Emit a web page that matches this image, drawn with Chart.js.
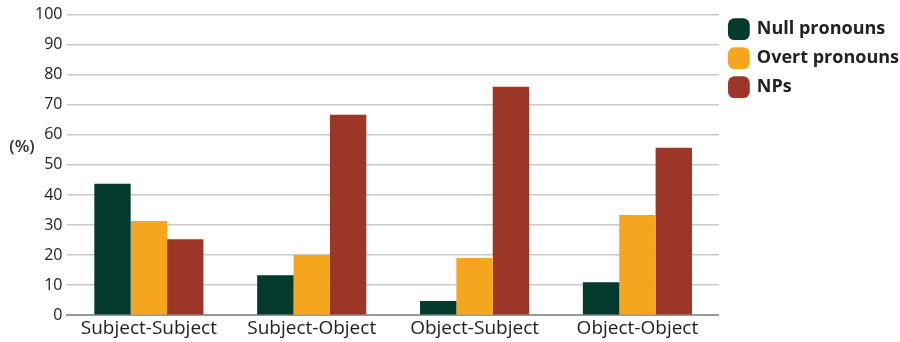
<!DOCTYPE html>
<html>
<head>
<meta charset="utf-8">
<script src="https://cdn.jsdelivr.net/npm/chart.js@4.4.0/dist/chart.umd.min.js"></script>
<style>
  html, body { margin: 0; padding: 0; background: #fff; }
  #wrap { width: 900px; height: 342px; position: relative; }
</style>
</head>
<body>
<div id="wrap"><canvas id="chart"></canvas></div>
<script>
  var categories = ['Subject-Subject', 'Subject-Object', 'Object-Subject', 'Object-Object'];
  var nullPronouns = [43.7, 13.3, 4.7, 11];
  var overtPronouns = [31.3, 20, 19, 33.3];
  var nps = [25.3, 66.7, 76, 55.7];
  var yTicks = [0, 10, 20, 30, 40, 50, 60, 70, 80, 90, 100];

  var FONT = "'Open Sans', sans-serif";

  // "(%)" label, horizontal, left of the y ticks
  var unitLabel = {
    id: 'unitLabel',
    afterDraw: function(chart){
      var ctx = chart.ctx;
      ctx.save();
      ctx.font = '600 17px ' + FONT;
      ctx.fillStyle = '#333';
      ctx.textAlign = 'center';
      ctx.textBaseline = 'middle';
      ctx.fillText('(%)', 22, 147);
      ctx.restore();
    }
  };

  new Chart(document.getElementById('chart'), {
    type: 'bar',
    data: {
      labels: categories,
      datasets: [
        { label: 'Null pronouns', data: nullPronouns, backgroundColor: '#033a2b' },
        { label: 'Overt pronouns', data: overtPronouns, backgroundColor: '#f6a61e' },
        { label: 'NPs', data: nps, backgroundColor: '#9c3628' }
      ]
    },
    options: {
      responsive: true,
      maintainAspectRatio: false,
      animation: false,
      layout: { padding: { top: 0, left: 30, right: -9, bottom: 0 } },
      datasets: { bar: { categoryPercentage: 0.67, barPercentage: 1.0 } },
      plugins: {
        legend: {
          position: 'right',
          align: 'start',
          // blank title only pushes the rows down a little
          title: { display: true, text: ' ', font: { size: 1 }, padding: { top: 0, bottom: 8 } },
          labels: {
            usePointStyle: true,
            pointStyle: 'rectRounded',
            boxWidth: 18,
            boxHeight: 18,
            padding: 11,
            color: '#222',
            font: { family: FONT, size: 18, weight: 'bold' }
          }
        },
        tooltip: { enabled: false }
      },
      scales: {
        x: {
          grid: { display: false, drawTicks: false },
          border: { display: true, color: '#999', width: 2 },
          ticks: { color: '#222', font: { family: FONT, size: 19 }, padding: 2 }
        },
        y: {
          min: 0,
          max: 100,
          afterBuildTicks: function(axis){ axis.ticks = yTicks.map(function(v){ return { value: v }; }); },
          grid: { color: '#c9c9c9', lineWidth: 1.5, drawTicks: false },
          border: { display: false },
          ticks: { color: '#222', font: { family: FONT, size: 16 }, padding: 5 }
        }
      }
    },
    plugins: [unitLabel]
  });
</script>
</body>
</html>
